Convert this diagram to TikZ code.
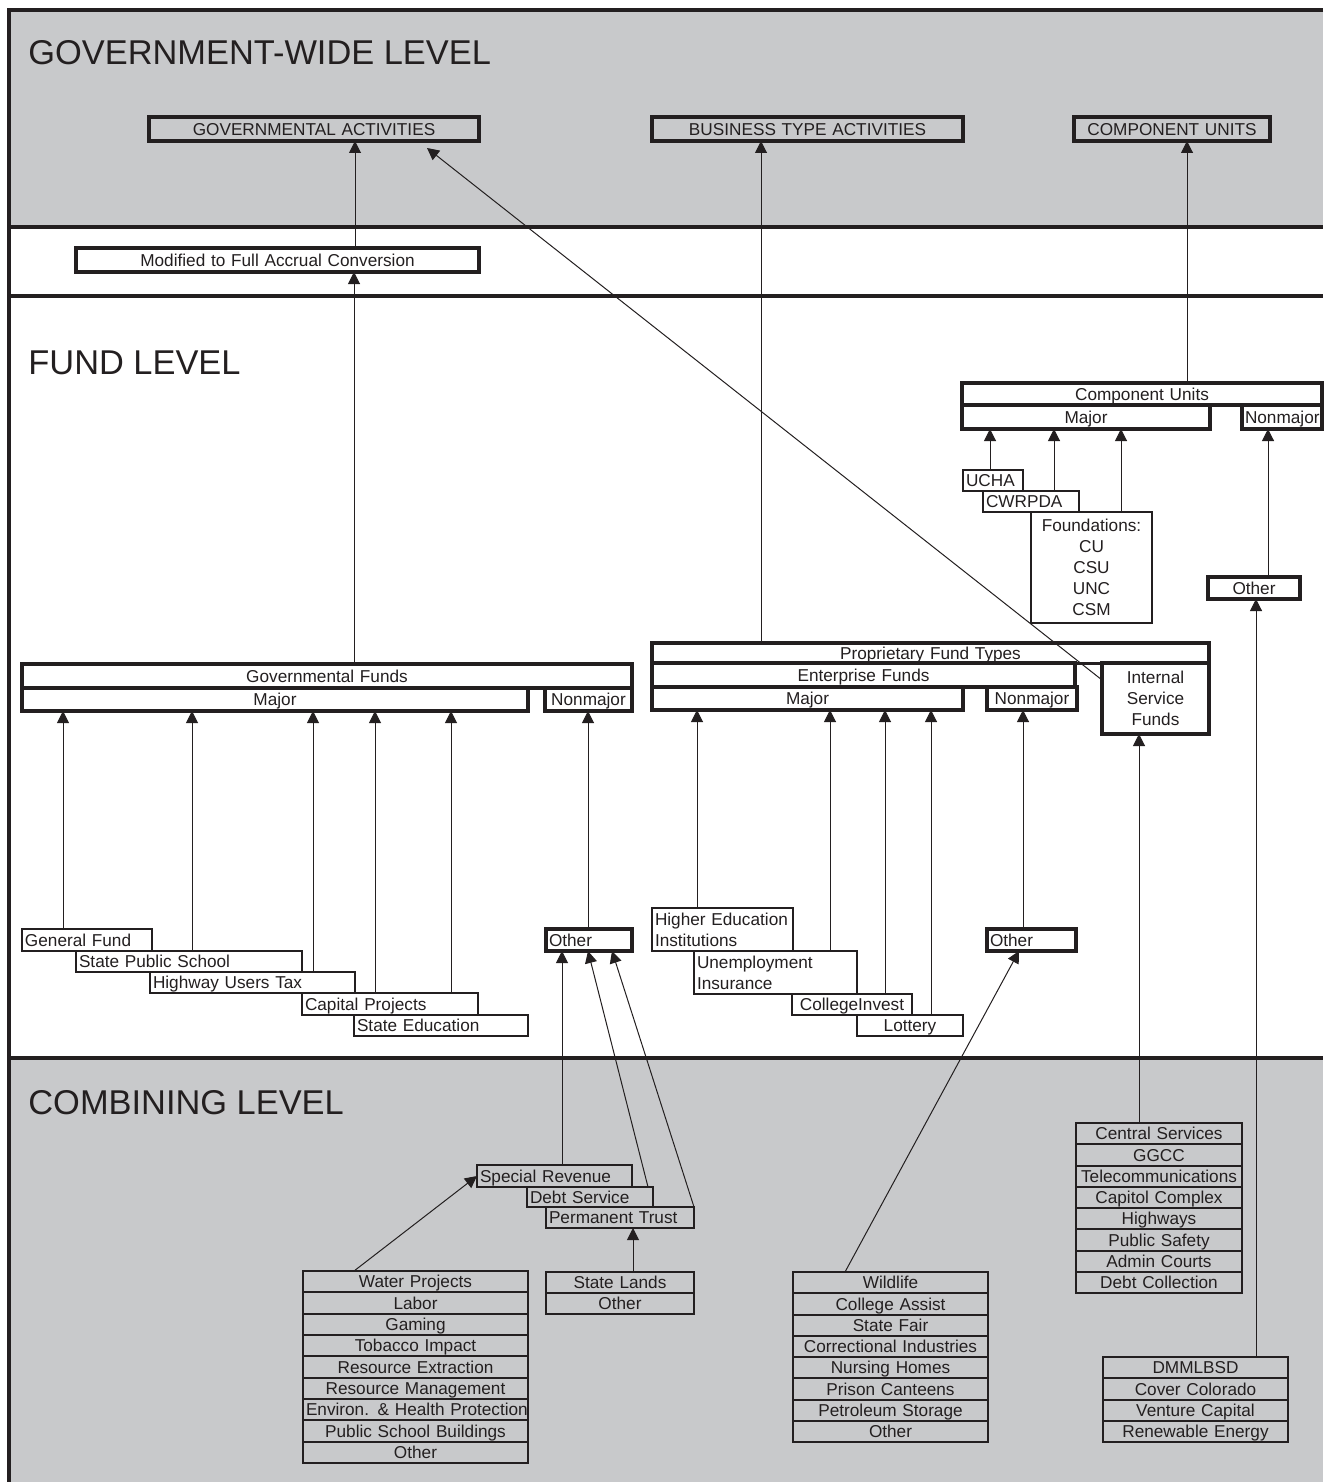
\documentclass[tikz,border=0pt]{standalone}
\usepackage{fontspec}
\setmainfont{Liberation Sans}
\usetikzlibrary{arrows.meta,calc}
\definecolor{band}{RGB}{200,201,203}
\definecolor{ink}{RGB}{35,31,32}
\pgfdeclarelayer{bg}
\pgfdeclarelayer{edges}
\pgfdeclarelayer{fg}
\pgfsetlayers{bg,edges,main,fg}
\newcommand{\mystrut}{\rule[-1.9pt]{0pt}{10.06pt}}
\newcommand{\mkbox}[7]{%
  \pgfmathsetmacro\bw{(#4-#2)*0.5}%
  \pgfmathsetmacro\bh{(#5-#3)*0.5}%
  \pgfmathsetmacro\tw{(#4-#2)*0.5-3}%
  \node[#6, anchor=north west, minimum width=\bw pt, minimum height=\bh pt, text width=\tw pt] (#1) at (#2,#3) {\mystrut#7};}
\newcommand{\mkboxm}[7]{%
  \pgfmathsetmacro\bw{(#4-#2)*0.5}%
  \pgfmathsetmacro\bh{(#5-#3)*0.5}%
  \pgfmathsetmacro\tw{(#4-#2)*0.5-3}%
  \node[#6, anchor=north west, minimum width=\bw pt, minimum height=\bh pt, text width=\tw pt] (#1) at (#2,#3) {#7};}
\tikzset{
  lbl/.style={font=\fontsize{8.6pt}{10.5pt}\selectfont, text=ink, inner xsep=1.5pt, inner ysep=0pt, outer sep=0pt, draw=ink},
  heavy/.style={lbl, line width=1.6pt, align=center},
  heavyw/.style={lbl, line width=1.6pt, align=center, fill=white},
  heavyl/.style={lbl, line width=1.6pt, align=left, fill=white},
  itemL/.style={lbl, line width=1pt, align=left, fill=white},
  itemC/.style={lbl, line width=1pt, align=center, fill=white},
  thinL/.style={lbl, line width=0.7pt, align=left, fill=white},
  thinC/.style={lbl, line width=0.7pt, align=center, fill=white},
  combL/.style={lbl, line width=1pt, align=left},
  row/.style={lbl, line width=1pt, align=center},
  conn/.style={draw=ink, line width=0.5pt, -{Triangle[length=6pt,width=6pt]}},
  frame/.style={draw=ink, line width=1.9pt},
  title/.style={font=\fontsize{17.2pt}{20pt}\selectfont, text=ink, inner sep=0pt, anchor=base west},
}
\begin{document}
\begin{tikzpicture}[x=0.5pt,y=-0.5pt]
\useasboundingbox (0,0) rectangle (1323,1482);
% bands
\begin{pgfonlayer}{bg}
\fill[band] (9,10) rectangle (1323,227);
\fill[band] (9,1058) rectangle (1323,1482);
\draw[frame] (1323,10) -- (9,10) -- (9,1482);
\draw[frame] (9,227) -- (1323,227);
\draw[frame] (9,296) -- (1323,296);
\draw[frame] (9,1058) -- (1323,1058);
\end{pgfonlayer}
% titles
\node[title] (t1) at (28,65) {GOVERNMENT-WIDE LEVEL};
\node[title] (t2) at (28,374) {FUND LEVEL};
\node[title] (t3) at (28,1114) {COMBINING LEVEL};
% government-wide
\mkbox{ga}{149}{117}{479}{141}{heavy}{GOVERNMENTAL ACTIVITIES}
\mkbox{bta}{652}{117}{963}{141}{heavy}{BUSINESS TYPE ACTIVITIES}
\mkbox{cua}{1074}{117}{1270}{141}{heavy}{COMPONENT UNITS}
\mkbox{conv}{76}{248}{479}{272}{heavyw}{Modified to Full Accrual Conversion}
% governmental funds
\mkbox{gfund}{22}{664}{632}{688}{heavyw}{Governmental Funds}
\mkbox{gmaj}{22}{688}{528}{711}{heavyw}{Major}
\mkbox{gnon}{545}{688}{632}{711}{heavyw}{Nonmajor}
\mkbox{genf}{22}{929}{152}{951}{itemL}{General Fund}
\mkbox{sps}{76}{951}{302}{972}{itemL}{State Public School}
\mkbox{hut}{150}{972}{355}{993}{itemL}{Highway Users Tax}
\mkbox{sed}{354}{1015}{528}{1036}{itemL}{State Education}
\mkbox{cap}{302}{993}{478}{1015}{itemL}{Capital Projects}
\mkbox{gother}{546}{929}{632}{951}{heavyl}{Other}
% proprietary
\mkbox{prop}{652}{643}{1209}{663}{heavyw}{Proprietary Fund Types}
\mkbox{ent}{652}{663}{1075}{687}{heavyw}{Enterprise Funds}
\mkbox{emaj}{652}{687}{963}{710}{heavyw}{Major}
\mkbox{enon}{987}{687}{1077}{710}{heavyw}{Nonmajor}
\mkboxm{isf}{1102}{663}{1209}{734}{heavyw}{Internal\\Service\\Funds}
\mkboxm{hei}{652}{908}{793}{951}{itemL}{Higher Education\\Institutions}
\mkboxm{ui}{694}{951}{857}{994}{itemL}{Unemployment\\Insurance}
\mkbox{ci}{792}{994}{912}{1015}{itemC}{CollegeInvest}
\mkbox{lot}{857}{1015}{963}{1036}{itemC}{Lottery}
\mkbox{eother}{987}{929}{1076}{951}{heavyl}{Other}
% component units
\mkbox{cun}{962}{383}{1322}{405}{heavyw}{Component Units}
\mkbox{cmaj}{962}{405}{1210}{429}{heavyw}{Major}
\mkbox{cnon}{1242}{405}{1322}{429}{heavyw}{Nonmajor}
\mkbox{ucha}{963}{470}{1023}{491}{thinL}{UCHA}
\mkbox{cwr}{983}{491}{1079}{512}{thinL}{CWRPDA}
\mkboxm{fnd}{1031}{512}{1152}{623}{thinC}{Foundations:\\CU\\CSU\\UNC\\CSM}
\mkbox{cother}{1208}{577}{1300}{599}{heavyw}{Other}
% combining level
\mkbox{sr}{477}{1165}{632}{1187}{combL}{Special Revenue}
\mkbox{ds}{527}{1187}{653}{1207}{combL}{Debt Service}
\mkbox{pt}{546}{1207}{694}{1228}{combL}{Permanent Trust}
\foreach \lab [count=\i] in {Water Projects,Labor,Gaming,Tobacco Impact,Resource Extraction,Resource Management,\mbox{Environ. \& Health Protection},Public School Buildings,Other}{%
  \pgfmathsetmacro\yy{1271+(\i-1)*21.33}%
  \mkbox{wp\i}{303}{\yy}{528}{\yy+21.33}{row}{\lab}}
\foreach \lab [count=\i] in {State Lands,Other}{%
  \pgfmathsetmacro\yy{1272+(\i-1)*21}%
  \mkbox{sl\i}{546}{\yy}{694}{\yy+21}{row}{\lab}}
\foreach \lab [count=\i] in {Wildlife,College Assist,State Fair,Correctional Industries,Nursing Homes,Prison Canteens,Petroleum Storage,Other}{%
  \pgfmathsetmacro\yy{1272+(\i-1)*21.25}%
  \mkbox{wl\i}{793}{\yy}{988}{\yy+21.25}{row}{\lab}}
\foreach \lab [count=\i] in {Central Services,GGCC,Telecommunications,Capitol Complex,Highways,Public Safety,Admin Courts,Debt Collection}{%
  \pgfmathsetmacro\yy{1123+(\i-1)*21.25}%
  \mkbox{cs\i}{1076}{\yy}{1242}{\yy+21.25}{row}{\lab}}
\foreach \lab [count=\i] in {DMMLBSD,Cover Colorado,Venture Capital,Renewable Energy}{%
  \pgfmathsetmacro\yy{1357+(\i-1)*21.25}%
  \mkbox{dm\i}{1103}{\yy}{1288}{\yy+21.25}{row}{\lab}}
% connectors
\begin{pgfonlayer}{edges}
\draw[conn] (conv.north -| 355,0) -- (ga.south -| 355,0);
\draw[conn] (gfund.north -| 354,0) -- (conv.south -| 354,0);
\draw[conn] (prop.north -| 761,0) -- (bta.south -| 761,0);
\draw[conn] (cun.north -| 1187,0) -- (cua.south -| 1187,0);
\draw[conn] (genf.north -| 63,0) -- (gmaj.south -| 63,0);
\draw[conn] (sps.north -| 192,0) -- (gmaj.south -| 192,0);
\draw[conn] (hut.north -| 313,0) -- (gmaj.south -| 313,0);
\draw[conn] (cap.north -| 375,0) -- (gmaj.south -| 375,0);
\draw[conn] (sed.north -| 451,0) -- (gmaj.south -| 451,0);
\draw[conn] (gother.north -| 588,0) -- (gnon.south -| 588,0);
\draw[conn] (hei.north -| 697,0) -- (emaj.south -| 697,0);
\draw[conn] (ui.north -| 830,0) -- (emaj.south -| 830,0);
\draw[conn] (ci.north -| 885,0) -- (emaj.south -| 885,0);
\draw[conn] (lot.north -| 931,0) -- (emaj.south -| 931,0);
\draw[conn] (eother.north -| 1023,0) -- (enon.south -| 1023,0);
\draw[conn] (cs1.north -| 1139,0) -- (isf.south -| 1139,0);
\draw[conn] (ucha.north -| 990,0) -- (cmaj.south -| 990,0);
\draw[conn] (cwr.north -| 1054,0) -- (cmaj.south -| 1054,0);
\draw[conn] (fnd.north -| 1121,0) -- (cmaj.south -| 1121,0);
\draw[conn] (cother.north -| 1268,0) -- (cnon.south -| 1268,0);
\draw[conn] (dm1.north -| 1256,0) -- (cother.south -| 1256,0);
\draw[conn] (sr.north -| 562,0) -- (gother.south -| 562,0);
\draw[conn] (ds.north -| 648,0) -- (gother.south -| 588,0);
\draw[conn] (pt.north east) -- (gother.south -| 612,0);
\draw[conn] (wp1.north -| 354,0) -- (sr.west);
\draw[conn] (sl1.north -| 633,0) -- (pt.south -| 633,0);
\draw[conn] (wl1.north -| 845,0) -- (eother.south -| 1019,0);
\end{pgfonlayer}
\begin{pgfonlayer}{fg}
\coordinate (gaTip) at (427,148);
\draw[conn] ($(isf.north west)+(0,17)$) -- (gaTip);
\end{pgfonlayer}
\end{tikzpicture}
\end{document}
